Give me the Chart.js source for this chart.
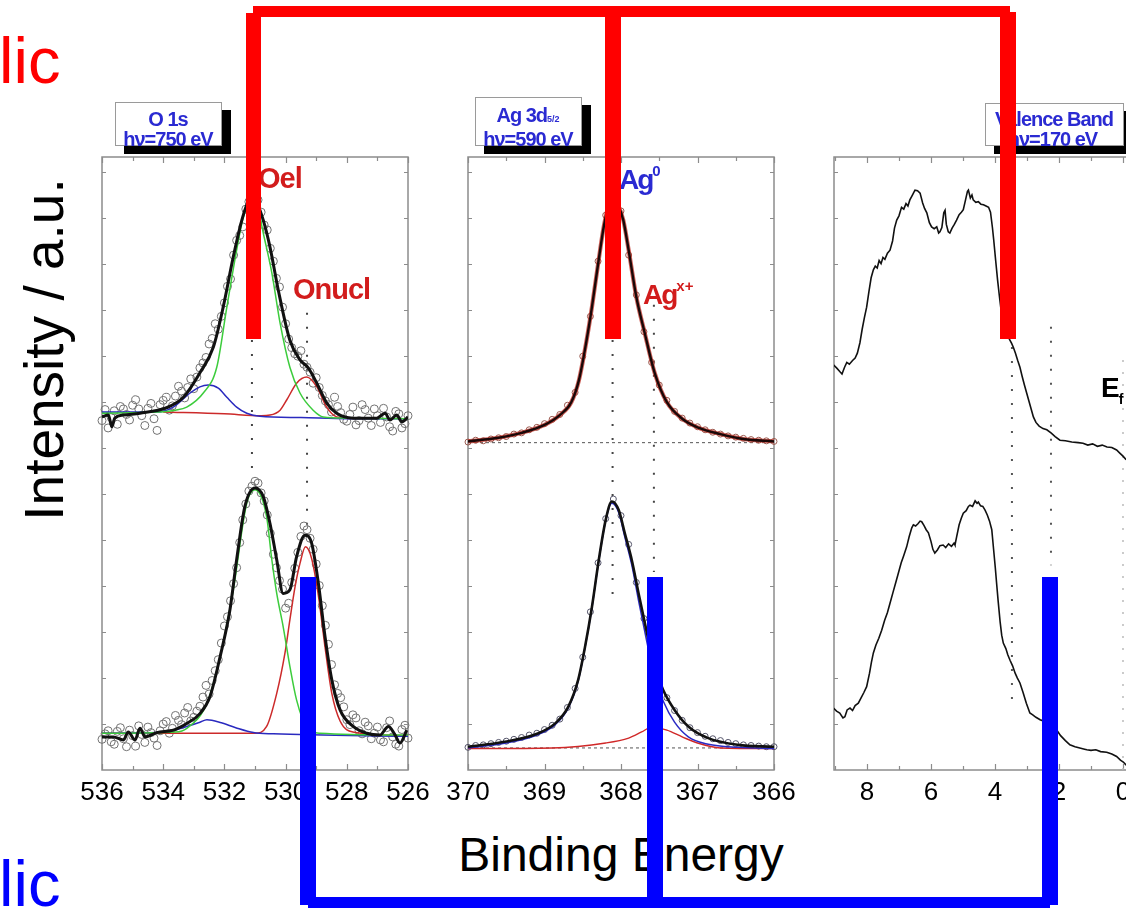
<!DOCTYPE html>
<html>
<head>
<meta charset="utf-8">
<script src="https://cdn.jsdelivr.net/npm/chart.js@4.4.1/dist/chart.umd.min.js"></script>
<style>
  html, body { margin:0; padding:0; width:1126px; height:908px; overflow:hidden; background:#fff; }
  body { position:relative; font-family:"Liberation Sans", Arial, sans-serif; }
  canvas { position:absolute; }
  .abs { position:absolute; white-space:nowrap; line-height:1; }
  .tbox { position:absolute; background:#fff; border:1.5px solid #9a9a9a; box-shadow:9px 8px 0 #000; }
  .tt { position:absolute; white-space:nowrap; line-height:20px; font-size:20px; font-weight:bold; color:#2a2ad2; letter-spacing:-1px; text-align:center; }
  .lab { position:absolute; white-space:nowrap; line-height:1; font-weight:bold; font-size:29px; letter-spacing:-1px; }
  .lab sup { font-size:15px; vertical-align:13px; letter-spacing:0; }
  .red { background:#ff0000; position:absolute; }
  .blue { background:#0000ff; position:absolute; }
</style>
</head>
<body>
<canvas id="o1s" width="366" height="670" style="left:72px;top:145px;width:366px;height:670px"></canvas>
<canvas id="ag" width="366" height="670" style="left:438px;top:145px;width:366px;height:670px"></canvas>
<canvas id="vb" width="381" height="670" style="left:804px;top:145px;width:381px;height:670px"></canvas>

<!-- title boxes -->
<div class="tbox" style="left:115px;top:102px;width:105px;height:42px"></div>
<div class="tt" style="left:118px;top:109px;width:100px">O 1s</div>
<div class="tt" style="left:118px;top:129px;width:100px">hν=750 eV</div>

<div class="tbox" style="left:475px;top:97px;width:105px;height:47px"></div>
<div class="tt" style="left:478px;top:105px;width:100px">Ag 3d<span style="font-size:9px;letter-spacing:0">5/2</span></div>
<div class="tt" style="left:478px;top:129px;width:100px">hν=590 eV</div>

<div class="tbox" style="left:985px;top:103px;width:137px;height:41px"></div>
<div class="tt" style="left:990px;top:109px;width:128px">Valence Band</div>
<div class="tt" style="left:990px;top:129px;width:125px">hν=170 eV</div>

<!-- peak labels -->
<div class="lab" style="left:258px;top:164px;color:#d21c1c">Oel</div>
<div class="lab" style="left:293px;top:275px;color:#d21c1c">Onucl</div>
<div class="lab" style="left:619px;top:163px;color:#2a2ad2;font-size:28px;letter-spacing:-2px">Ag<sup>0</sup></div>
<div class="lab" style="left:643px;top:278px;color:#d21c1c;font-size:28px;letter-spacing:-2px">Ag<sup>x+</sup></div>
<div class="lab" style="left:1101px;top:374px;color:#000;font-size:28px">E<sub style="font-size:14px">f</sub></div>

<!-- axis titles and side words -->
<div class="abs" style="left:-166px;top:322px;width:420px;text-align:center;font-size:55px;transform:rotate(-90deg)">Intensity / a.u.</div>
<div class="abs" style="left:421px;top:831px;width:400px;text-align:center;font-size:48px">Binding Energy</div>
<div class="abs" style="left:-1px;top:28px;font-size:65px;color:#ff0000">lic</div>
<div class="abs" style="left:-1px;top:851px;font-size:65px;color:#0000ff">lic</div>

<!-- brackets -->
<div class="red" style="left:253px;top:6px;width:757px;height:11px"></div>
<div class="red" style="left:246px;top:13px;width:15px;height:326px"></div>
<div class="red" style="left:605px;top:14px;width:16px;height:325px"></div>
<div class="red" style="left:1000px;top:12px;width:16px;height:327px"></div>
<div class="blue" style="left:300px;top:577px;width:16px;height:328px"></div>
<div class="blue" style="left:308px;top:897px;width:742px;height:11px"></div>
<div class="blue" style="left:647px;top:577px;width:16px;height:331px"></div>
<div class="blue" style="left:1042px;top:577px;width:16px;height:328px"></div>

<script>
// ---- O 1s (binding energy eV, intensity a.u.) ----
const o1sTopFit = [[536.0,57.6],[535.79,57.9],[535.68,56.0],[535.58,57.4],[535.3,57.9],[534.76,58.2],[533.89,59.1],[533.34,60.8],[532.8,64.8],[532.36,69.0],[532.04,75.5],[531.71,83.7],[531.43,89.7],[531.25,92.4],[531.1,93.3],[530.93,92.4],[530.73,89.7],[530.51,85.3],[530.24,78.3],[529.86,70.1],[529.53,66.9],[529.26,65.6],[528.98,63.1],[528.66,59.9],[528.33,58.2],[527.79,57.4],[527.02,57.4],[526.75,58.2],[526.59,57.1],[526.37,57.9],[526.2,56.8],[526.0,57.6]];
const o1sTopEl = [[536.0,58.2],[534.2,58.4],[533.6,58.7],[533.23,59.2],[532.69,61.5],[532.25,65.7],[531.92,75.5],[531.6,84.8],[531.38,90.2],[531.1,93.0],[530.9,91.6],[530.73,87.6],[530.45,81.1],[530.18,72.9],[529.86,65.7],[529.53,61.5],[529.1,58.7],[528.77,57.6],[528.0,57.4],[526.0,57.3]];
const o1sTopMix = [[536.0,58.4],[534.2,58.4],[533.67,59.2],[533.12,61.5],[532.8,62.5],[532.53,62.8],[532.2,62.3],[531.92,60.8],[531.6,59.2],[531.27,58.2],[530.84,57.7],[529.5,57.5],[528.0,57.3],[526.0,57.3]];
const o1sTopNucl = [[534.0,58.4],[532.0,58.1],[530.8,57.8],[530.51,57.9],[530.18,58.7],[529.96,60.4],[529.64,63.1],[529.31,64.1],[528.98,62.5],[528.66,59.2],[528.33,57.6],[528.0,57.4]];
const o1sTopDots = [[536.0,57.0],[535.8,55.8],[535.6,58.6],[535.4,59.3],[535.2,58.0],[535.0,59.5],[534.8,58.9],[534.6,56.2],[534.4,59.8],[534.2,55.4],[534.0,60.3],[533.8,58.7],[533.6,61.0],[533.4,61.8],[533.2,62.4],[533.0,62.2],[532.8,65.6],[532.6,67.3],[532.4,70.4],[532.2,71.9],[532.0,76.2],[531.8,80.1],[531.6,86.4],[531.4,88.6],[531.2,92.7],[531.0,95.0],[530.8,91.0],[530.6,88.1],[530.4,83.0],[530.2,78.8],[530.0,72.8],[529.8,68.9],[529.6,67.5],[529.4,66.2],[529.2,64.9],[529.0,64.0],[528.8,61.1],[528.6,59.6],[528.4,60.8],[528.2,58.3],[528.0,56.9],[527.8,59.2],[527.6,57.0],[527.4,58.8],[527.2,56.2],[527.0,57.8],[526.8,59.0],[526.6,56.0],[526.4,58.5],[526.2,55.8],[526.0,57.8]];
const o1sTopDotsHalf = [[535.9,58.8],[535.7,57.5],[535.5,56.4],[535.3,58.9],[535.1,57.1],[534.9,60.4],[534.7,57.8],[534.5,59.0],[534.3,57.3],[534.1,59.6],[533.9,60.8],[533.7,59.4],[533.5,62.6],[533.3,60.7],[533.1,63.8],[532.9,64.1],[532.7,66.4],[532.5,69.5],[532.3,72.8],[532.1,74.0],[531.9,78.9],[531.7,84.0],[531.5,87.2],[531.3,91.5],[531.1,94.2],[530.9,93.0],[530.7,88.9],[530.5,85.1],[530.3,80.2],[530.1,75.5],[529.9,70.3],[529.7,67.9],[529.5,68.4],[529.3,65.7],[529.1,63.1],[528.9,62.4],[528.7,60.2],[528.5,58.4],[528.3,59.3],[528.1,57.2],[527.9,58.0],[527.7,56.3],[527.5,59.6],[527.3,57.4],[527.1,58.9],[526.9,56.7],[526.7,57.6],[526.5,55.3],[526.3,58.1],[526.1,56.5]];

const o1sBotFit = [[536.0,5.4],[535.63,5.4],[535.3,4.9],[535.14,6.2],[534.92,4.9],[534.76,6.8],[534.59,5.4],[534.21,6.1],[533.67,6.5],[533.23,7.6],[532.8,9.2],[532.47,12.0],[532.14,18.5],[531.82,26.1],[531.6,34.3],[531.33,43.0],[531.0,46.0],[530.73,44.6],[530.51,40.2],[530.29,34.3],[530.08,28.8],[529.86,29.4],[529.64,34.8],[529.37,38.3],[529.15,37.0],[528.93,30.5],[528.71,21.7],[528.49,14.7],[528.22,9.8],[527.79,7.1],[527.35,6.0],[526.92,5.7],[526.64,7.1],[526.42,5.7],[526.26,4.4],[526.04,6.5]];
const o1sBotEl = [[536.0,6.0],[533.6,6.2],[533.23,6.8],[532.57,10.9],[532.14,18.5],[531.71,29.4],[531.27,43.5],[531.0,45.7],[530.62,41.3],[530.45,34.3],[530.29,28.8],[530.08,23.4],[529.86,16.9],[529.64,11.4],[529.31,7.0],[528.87,6.0],[526.0,5.7]];
const o1sBotMix = [[536.0,6.0],[533.9,6.2],[533.23,7.1],[532.8,7.8],[532.57,8.2],[532.1,7.7],[531.63,6.9],[531.05,6.1],[530.4,5.9],[526.0,5.5]];
const o1sBotNucl = [[536.0,6.0],[531.0,6.0],[530.62,7.1],[530.29,12.5],[530.02,19.1],[529.86,24.5],[529.69,29.9],[529.53,33.7],[529.35,36.4],[529.15,34.5],[528.93,28.5],[528.71,20.0],[528.49,12.5],[528.22,8.0],[527.8,6.2],[526.0,5.6]];
const o1sBotDots = [[536.0,5.0],[535.8,6.4],[535.6,4.2],[535.4,6.9],[535.2,3.8],[535.0,5.6],[534.8,7.2],[534.6,4.5],[534.4,6.1],[534.2,4.0],[534.0,7.5],[533.8,6.0],[533.6,8.9],[533.4,7.4],[533.2,10.2],[533.0,8.6],[532.8,10.4],[532.6,13.8],[532.4,14.6],[532.2,18.0],[532.0,23.5],[531.8,27.6],[531.6,33.0],[531.4,40.8],[531.2,45.5],[531.0,47.1],[530.8,45.2],[530.6,41.6],[530.4,35.2],[530.2,30.9],[530.0,26.4],[529.8,30.6],[529.6,35.5],[529.4,39.8],[529.2,37.8],[529.0,33.6],[528.8,26.8],[528.6,20.5],[528.4,13.9],[528.2,11.8],[528.0,8.2],[527.8,9.0],[527.6,6.4],[527.4,7.8],[527.2,5.1],[527.0,7.0],[526.8,4.6],[526.6,8.0],[526.4,4.2],[526.2,6.6],[526.0,5.2]];
const o1sBotDotsHalf = [[535.9,5.9],[535.7,4.6],[535.5,6.3],[535.3,5.1],[535.1,6.5],[534.9,3.9],[534.7,5.8],[534.5,7.0],[534.3,5.2],[534.1,6.4],[533.9,7.9],[533.7,6.8],[533.5,8.1],[533.3,9.3],[533.1,8.0],[532.9,9.6],[532.7,11.9],[532.5,12.4],[532.3,16.2],[532.1,20.7],[531.9,25.0],[531.7,30.4],[531.5,37.1],[531.3,43.4],[531.1,46.3],[530.9,46.8],[530.7,43.9],[530.5,38.6],[530.3,33.0],[530.1,29.5],[529.9,27.2],[529.7,32.9],[529.5,38.1],[529.3,39.2],[529.1,36.0],[528.9,30.1],[528.7,23.6],[528.5,17.2],[528.3,12.5],[528.1,10.3],[527.9,7.4],[527.7,8.5],[527.5,5.9],[527.3,7.2],[527.1,6.0],[526.9,4.9],[526.7,6.9],[526.5,5.4],[526.3,3.9],[526.1,7.3]];

const o1sMarkE = [531.1, 529.3];
const o1sMarkHi = [93.0, 74.6];
const o1sMarkLo = [48.6, 39.6];

// ---- Ag 3d5/2 ----
const agTopFit = [[370.0,53.6],[369.6,54.2],[369.3,55.0],[369.0,56.3],[368.8,57.9],[368.65,60.0],[368.55,63.6],[368.45,70.1],[368.38,75.5],[368.3,82.5],[368.22,89.0],[368.15,92.5],[368.1,93.3],[368.04,92.2],[367.97,89.7],[367.9,84.8],[367.8,77.2],[367.69,71.3],[367.56,64.8],[367.4,60.0],[367.2,57.3],[367.0,55.9],[366.7,54.8],[366.4,54.0],[366.0,53.6]];
const agTopDots = [[370.0,53.5],[369.9,53.8],[369.8,53.7],[369.7,54.0],[369.6,54.2],[369.5,54.4],[369.4,54.8],[369.3,55.0],[369.2,55.5],[369.1,55.9],[369.0,56.5],[368.9,57.2],[368.8,58.0],[368.7,59.5],[368.6,61.6],[368.5,67.5],[368.4,74.0],[368.3,83.0],[368.2,90.5],[368.1,93.6],[368.0,91.2],[367.9,84.0],[367.8,77.5],[367.7,71.5],[367.6,66.5],[367.5,62.8],[367.4,60.3],[367.3,58.5],[367.2,57.4],[367.1,56.6],[367.0,56.0],[366.9,55.5],[366.8,55.1],[366.7,54.8],[366.6,54.5],[366.5,54.3],[366.4,54.1],[366.3,53.9],[366.2,53.8],[366.1,53.7],[366.0,53.6]];
const agBotFit = [[370.0,3.8],[369.52,4.6],[369.08,6.0],[368.86,7.6],[368.69,10.3],[368.56,14.7],[368.47,20.1],[368.38,26.6],[368.29,34.3],[368.2,40.8],[368.12,43.8],[368.03,42.4],[367.95,38.6],[367.86,34.3],[367.77,28.8],[367.66,22.3],[367.56,16.9],[367.45,13.1],[367.3,9.8],[367.12,7.1],[366.86,5.2],[366.47,4.1],[366.0,3.8]];
const agBotMetal = [[370.0,3.6],[369.5,4.4],[369.08,5.8],[368.86,7.4],[368.69,10.1],[368.56,14.5],[368.47,20.0],[368.38,26.5],[368.29,34.2],[368.2,40.7],[368.12,43.5],[368.03,42.0],[367.95,38.0],[367.86,33.5],[367.77,27.6],[367.66,20.8],[367.56,15.2],[367.45,11.3],[367.3,7.8],[367.12,5.4],[366.86,4.2],[366.47,3.7],[366.0,3.5]];
const agBotIon = [[370.0,3.5],[368.9,3.6],[368.2,4.4],[367.9,5.2],[367.73,6.2],[367.6,7.0],[367.4,6.5],[367.2,5.4],[367.0,4.4],[366.7,3.6],[366.0,3.5]];
const agBotDots = [[370.0,3.7],[369.9,4.0],[369.8,4.1],[369.7,4.3],[369.6,4.5],[369.5,4.7],[369.4,5.0],[369.3,5.3],[369.2,5.7],[369.1,6.0],[369.0,6.6],[368.9,7.3],[368.8,8.3],[368.7,10.2],[368.6,13.3],[368.5,18.4],[368.4,25.8],[368.3,33.8],[368.2,41.0],[368.1,44.2],[368.0,41.5],[367.9,36.8],[367.8,30.6],[367.7,24.7],[367.6,19.5],[367.5,15.0],[367.4,11.8],[367.3,9.7],[367.2,8.1],[367.1,6.9],[367.0,6.1],[366.9,5.5],[366.8,5.1],[366.7,4.8],[366.6,4.5],[366.5,4.3],[366.4,4.1],[366.3,4.0],[366.2,3.9],[366.1,3.8],[366.0,3.8]];
const agBase = [53.4, 3.6];
const agMarkE = [368.11, 367.57];
const agMarkHi = [93.0, 75.9];
const agMarkLo = [28.2, 32.3];

// ---- Valence band ----
const vbTop = [[9.05,66.1],[8.95,65.6],[8.85,65.0],[8.78,64.6],[8.70,65.7],[8.63,66.5],[8.55,66.2],[8.45,66.8],[8.37,67.2],[8.30,68.0],[8.22,69.7],[8.15,71.9],[8.08,73.8],[8.01,75.5],[7.94,78.0],[7.87,80.3],[7.80,81.6],[7.74,82.2],[7.68,81.9],[7.62,83.1],[7.56,82.6],[7.50,83.6],[7.44,83.3],[7.36,84.3],[7.28,84.8],[7.20,86.3],[7.14,88.4],[7.07,89.7],[7.00,90.4],[6.92,91.8],[6.85,91.5],[6.78,92.4],[6.72,92.0],[6.66,93.0],[6.58,93.8],[6.50,94.6],[6.42,94.5],[6.34,94.1],[6.26,92.5],[6.20,91.6],[6.13,90.9],[6.05,89.3],[5.98,88.6],[5.90,88.3],[5.82,88.6],[5.76,87.6],[5.72,87.8],[5.66,88.5],[5.60,90.9],[5.56,91.3],[5.52,89.0],[5.46,87.8],[5.41,87.6],[5.34,88.4],[5.27,89.0],[5.20,89.7],[5.12,90.6],[5.05,91.0],[4.99,91.4],[4.92,93.0],[4.86,94.4],[4.83,94.6],[4.77,93.3],[4.72,93.8],[4.68,93.0],[4.60,92.6],[4.52,92.7],[4.44,92.3],[4.36,92.2],[4.28,92.0],[4.20,91.8],[4.14,91.0],[4.08,88.5],[4.04,86.5],[3.98,83.2],[3.92,80.0],[3.86,77.2],[3.80,74.6],[3.74,72.8],[3.69,71.8],[3.62,70.8],[3.55,70.3],[3.48,69.6],[3.43,69.0],[3.36,68.0],[3.29,66.8],[3.22,65.7],[3.15,64.2],[3.08,62.8],[3.01,61.5],[2.94,60.2],[2.87,58.9],[2.80,57.6],[2.72,56.7],[2.62,56.1],[2.50,55.7],[2.38,55.5],[2.25,55.0],[2.12,54.4],[1.97,53.8],[1.80,53.7],[1.60,53.5],[1.40,53.4],[1.25,53.3],[1.10,53.0],[0.95,53.2],[0.80,52.8],[0.65,53.0],[0.50,52.7],[0.35,52.6],[0.20,52.2],[0.10,51.7],[0.00,51.2],[-0.10,50.6]];
const vbBot = [[9.05,10.1],[8.95,9.6],[8.85,9.3],[8.75,8.5],[8.69,8.7],[8.62,9.8],[8.53,10.1],[8.45,9.7],[8.37,10.5],[8.27,10.9],[8.18,11.8],[8.10,12.6],[8.01,13.6],[7.92,15.8],[7.86,17.6],[7.80,19.1],[7.72,20.4],[7.63,21.5],[7.54,22.8],[7.45,24.4],[7.36,25.7],[7.28,27.2],[7.18,29.1],[7.10,30.6],[7.02,32.1],[6.93,33.8],[6.85,35.0],[6.76,36.4],[6.68,38.1],[6.60,39.5],[6.55,40.0],[6.48,39.8],[6.40,40.2],[6.34,40.6],[6.29,40.5],[6.22,39.9],[6.15,39.2],[6.08,38.7],[6.00,37.3],[5.94,36.0],[5.88,35.4],[5.80,35.9],[5.72,36.6],[5.62,36.7],[5.54,36.3],[5.45,36.9],[5.36,36.5],[5.28,37.0],[5.25,36.7],[5.20,38.0],[5.12,40.0],[5.05,41.1],[4.99,41.9],[4.90,42.3],[4.83,43.0],[4.78,43.2],[4.70,43.0],[4.62,43.9],[4.56,43.5],[4.52,43.7],[4.45,43.1],[4.38,43.0],[4.31,42.4],[4.24,41.6],[4.17,40.6],[4.10,39.2],[4.04,35.8],[3.99,33.0],[3.95,30.5],[3.90,27.5],[3.84,24.2],[3.79,22.0],[3.74,20.7],[3.66,19.8],[3.60,18.8],[3.53,17.9],[3.45,17.0],[3.37,15.8],[3.30,15.0],[3.22,14.2],[3.12,12.6],[3.02,10.9],[2.91,9.3],[2.82,9.0],[2.72,8.6],[2.59,8.2],[2.45,7.9],[2.30,7.3],[2.18,6.9],[2.07,6.5],[1.95,5.6],[1.80,4.8],[1.66,4.1],[1.50,3.8],[1.35,3.6],[1.20,3.4],[1.13,3.3],[1.00,3.2],[0.85,3.3],[0.70,3.0],[0.51,2.9],[0.35,2.6],[0.20,2.2],[0.08,1.6],[-0.01,1.3],[-0.10,0.8]];
const vbMarkE = [3.47, 2.25, 0.0];
const vbMarkHi = [71.3, 72.3, 66.9];
const vbMarkLo = [11.1, 33.4, 0.0];

const FONT = '"Liberation Sans", Arial, sans-serif';

const xy = a => a.map(p => ({ x: p[0], y: p[1] }));

function curve(a, color, width, order) {
  return { data: xy(a), borderColor: color, borderWidth: width, pointRadius: 0,
           cubicInterpolationMode: 'monotone', order: order };
}
function jagged(a, color, width) {
  return { data: xy(a), borderColor: color, borderWidth: width, pointRadius: 0, tension: 0, order: 1 };
}
function dots(a, color, r) {
  return { data: xy(a), showLine: false, pointRadius: r, pointBorderColor: color,
           pointBackgroundColor: 'rgba(0,0,0,0)', pointBorderWidth: 1, order: 5, clip: false };
}
function marks(es, hi, lo, color) {
  return es.map((e, i) => ({ data: [{ x: e, y: hi[i] }, { x: e, y: lo[i] }], borderColor: color,
           borderWidth: 2, borderDash: [2, 12], pointRadius: 0, order: 9 }));
}

// frame box + inward tick marks
const framePlugin = {
  id: 'frame',
  beforeDatasetsDraw(chart) {
    const { ctx, chartArea: a, scales: { x, y } } = chart;
    ctx.save();
    ctx.strokeStyle = '#8c8c8c';
    ctx.lineWidth = 1.5;
    ctx.strokeRect(a.left, a.top, a.right - a.left, a.bottom - a.top);
    ctx.lineWidth = 1.2;
    ctx.beginPath();
    x.ticks.forEach(t => {
      const px = Math.round(x.getPixelForValue(t.value)) + 0.5;
      if (px < a.left - 1 || px > a.right + 1) return;
      const len = t.label ? 6 : 4;
      ctx.moveTo(px, a.bottom); ctx.lineTo(px, a.bottom - len);
      ctx.moveTo(px, a.top); ctx.lineTo(px, a.top + len);
    });
    for (let v = 7.5; v < 100; v += 7.5) {
      const py = Math.round(y.getPixelForValue(v)) + 0.5;
      ctx.moveTo(a.left, py); ctx.lineTo(a.left + 4, py);
      ctx.moveTo(a.right, py); ctx.lineTo(a.right - 4, py);
    }
    ctx.stroke();
    ctx.restore();
  }
};

function panel(id, xMin, xMax, step, isMajor, datasets) {
  return new Chart(document.getElementById(id), {
    type: 'line',
    data: { datasets: datasets },
    options: {
      responsive: false,
      animation: false,
      devicePixelRatio: 1,
      layout: { padding: { left: 30, right: 30, top: 12, bottom: 0 } },
      plugins: { legend: { display: false }, tooltip: { enabled: false } },
      scales: {
        x: {
          type: 'linear', reverse: true, min: xMin, max: xMax,
          grid: { display: false, drawTicks: false },
          border: { display: false },
          ticks: {
            stepSize: step, includeBounds: false, autoSkip: false, maxRotation: 0,
            padding: 7, color: '#000', font: { family: FONT, size: 26 },
            callback: v => isMajor(v) ? String(Math.round(v)) : ''
          },
          afterFit: s => { s.height = 45; s.paddingLeft = 0; s.paddingRight = 0; }
        },
        y: { display: false, min: 0, max: 100 }
      }
    },
    plugins: [framePlugin]
  });
}

const even = v => Math.abs(v / 2 - Math.round(v / 2)) < 1e-6;
const whole = v => Math.abs(v - Math.round(v)) < 1e-6;

panel('o1s', 526, 536, 1, even, [
  curve(o1sTopFit, '#111', 3, 1),
  curve(o1sBotFit, '#111', 3, 1),
  curve(o1sTopEl, '#3ccc3c', 1.5, 2),
  curve(o1sBotEl, '#3ccc3c', 1.5, 2),
  curve(o1sTopMix, '#2a2abf', 1.5, 2),
  curve(o1sBotMix, '#2a2abf', 1.5, 2),
  curve(o1sTopNucl, '#cc2a2a', 1.5, 2),
  curve(o1sBotNucl, '#cc2a2a', 1.5, 2),
  dots(o1sTopDots, '#727272', 4),
  dots(o1sTopDotsHalf, '#727272', 4),
  dots(o1sBotDots, '#727272', 4),
  dots(o1sBotDotsHalf, '#727272', 4),
  ...marks(o1sMarkE, o1sMarkHi, o1sMarkLo, '#444')
]);

panel('ag', 366, 370, 0.5, whole, [
  curve(agTopFit, '#1a0808', 2.4, 1),
  curve(agTopFit, 'rgba(190,45,35,0.75)', 4.2, 3),
  curve(agBotFit, '#111', 2.6, 1),
  curve(agBotMetal, '#2a2ac4', 1.5, 2),
  curve(agBotIon, '#d02828', 1.4, 2),
  dots(agTopDots, '#9a5a50', 3),
  dots(agBotDots, '#55556a', 3),
  { data: [{ x: 370, y: agBase[0] }, { x: 366, y: agBase[0] }], borderColor: '#555', borderWidth: 1, borderDash: [3, 3], pointRadius: 0, order: 8 },
  { data: [{ x: 370, y: agBase[1] }, { x: 366, y: agBase[1] }], borderColor: '#555', borderWidth: 1, borderDash: [3, 3], pointRadius: 0, order: 8 },
  ...marks(agMarkE, agMarkHi, agMarkLo, '#444')
]);

panel('vb', -1, 9.03, 1, even, [
  jagged(vbTop, '#111', 1.6),
  jagged(vbBot, '#111', 1.6),
  ...marks(vbMarkE.slice(0, 2), vbMarkHi, vbMarkLo, '#555'),
  { data: [{ x: vbMarkE[2], y: vbMarkHi[2] }, { x: vbMarkE[2], y: vbMarkLo[2] }], borderColor: '#bbb',
    borderWidth: 1.5, borderDash: [2, 10], pointRadius: 0, order: 9 }
]);
</script>
</body>
</html>
